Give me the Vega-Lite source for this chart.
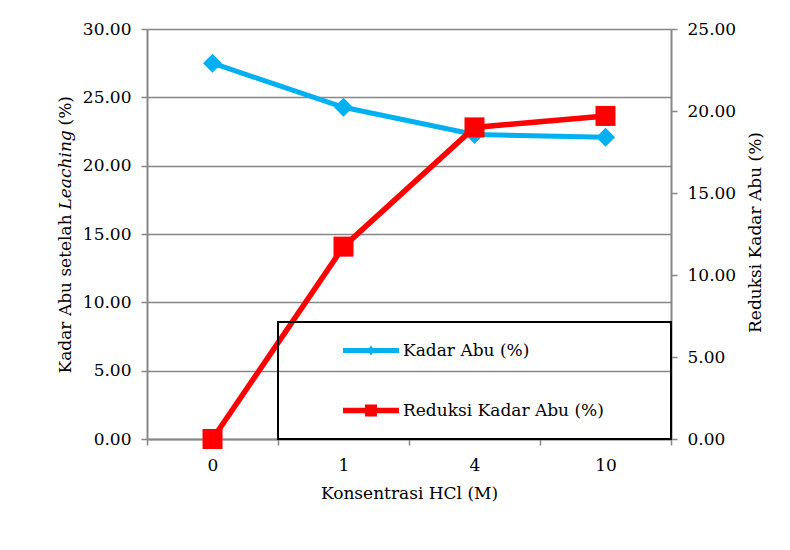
{
  "$schema": "https://vega.github.io/schema/vega-lite/v6.json",
  "width": 524,
  "height": 410,
  "autosize": {"type": "none"},
  "padding": {"left": 147, "top": 29, "right": 119, "bottom": 111},
  "background": "white",
  "data": {
    "values": [
      {"konsentrasi": "0", "kadar": 27.5, "reduksi": 0},
      {"konsentrasi": "1", "kadar": 24.27, "reduksi": 11.73},
      {"konsentrasi": "4", "kadar": 22.28, "reduksi": 19.0},
      {"konsentrasi": "10", "kadar": 22.08, "reduksi": 19.7}
    ]
  },
  "encoding": {
    "x": {
      "field": "konsentrasi",
      "type": "ordinal",
      "sort": ["0", "1", "4", "10"],
      "scale": {"type": "band", "paddingInner": 0, "paddingOuter": 0},
      "axis": {
        "title": "Konsentrasi HCl (M)",
        "labelAngle": 0,
        "tickBand": "extent",
        "tickSize": 6,
        "labelPadding": 12,
        "titlePadding": 12,
        "grid": false
      }
    }
  },
  "layer": [
    {
      "mark": {"type": "line", "color": "#00B0F0", "strokeWidth": 5},
      "encoding": {
        "y": {
          "field": "kadar",
          "type": "quantitative",
          "scale": {"domain": [0, 30]},
          "axis": {
            "orient": "left",
            "values": [0, 5, 10, 15, 20, 25, 30],
            "format": ".2f",
            "grid": true,
            "labelPadding": 10,
            "title": "Kadar Abu setelah",
            "titleX": -82,
            "titleY": 344,
            "titleAngle": -90,
            "titleAlign": "left",
            "titleBaseline": "middle"
          }
        }
      }
    },
    {
      "mark": {"type": "point", "shape": "diamond", "filled": true, "size": 361, "opacity": 1, "strokeWidth": 0},
      "encoding": {
        "y": {
          "field": "kadar",
          "type": "quantitative",
          "scale": {"domain": [0, 30]},
          "axis": {
            "orient": "left",
            "labels": false,
            "ticks": false,
            "domain": false,
            "grid": false,
            "title": "Leaching",
            "titleFontStyle": "italic",
            "titleX": -82,
            "titleY": 180,
            "titleAngle": -90,
            "titleAlign": "left",
            "titleBaseline": "middle"
          }
        },
        "color": {
          "datum": "Kadar Abu (%)",
          "type": "nominal",
          "legend": {
            "orient": "none",
            "legendX": 131,
            "legendY": 293,
            "title": null,
            "strokeColor": "black",
            "padding": 4,
            "rowPadding": 11,
            "clipHeight": 49,
            "labelOffset": 4,
            "labelLimit": 400,
            "labelExpr": "datum.label + '           \u2009\u200b'",
            "symbolSize": 13689,
            "symbolStrokeWidth": 0,
            "symbolOpacity": 1,
            "symbolType": {"expr": "datum.value === 'Kadar Abu (%)' ? 'M0.043,-0.044L1,-0.044L1,0.044L0.043,0.044Z M0.521,-0.085L0.581,0L0.521,0.085L0.461,0Z' : 'M0.043,-0.048L1,-0.048L1,0.048L0.043,0.048Z M0.418,-0.103L0.624,-0.103L0.624,0.103L0.418,0.103Z'"}
          }
        }
      }
    },
    {
      "mark": {"type": "line", "color": "#FF0000", "strokeWidth": 5.5},
      "encoding": {
        "y": {
          "field": "reduksi",
          "type": "quantitative",
          "scale": {"domain": [0, 25]},
          "axis": {
            "orient": "right",
            "values": [0, 5, 10, 15, 20, 25],
            "format": ".2f",
            "grid": false,
            "labelPadding": 10,
            "title": "Reduksi Kadar Abu (%)",
            "titleX": 84,
            "titleY": 203,
            "titleAngle": -90,
            "titleAlign": "center",
            "titleBaseline": "middle"
          }
        }
      }
    },
    {
      "mark": {"type": "point", "shape": "square", "filled": true, "size": 400, "opacity": 1, "strokeWidth": 0},
      "encoding": {
        "y": {
          "field": "reduksi",
          "type": "quantitative",
          "scale": {"domain": [0, 25]},
          "axis": {
            "orient": "left",
            "labels": false,
            "ticks": false,
            "domain": false,
            "grid": false,
            "title": "(%)",
            "titleX": -82,
            "titleY": 96,
            "titleAngle": -90,
            "titleAlign": "left",
            "titleBaseline": "middle"
          }
        },
        "color": {
          "datum": "Reduksi Kadar Abu (%)",
          "type": "nominal",
          "legend": {
            "orient": "none",
            "legendX": 131,
            "legendY": 293,
            "title": null,
            "strokeColor": "black",
            "padding": 4,
            "rowPadding": 11,
            "clipHeight": 49,
            "labelOffset": 4,
            "labelLimit": 400,
            "labelExpr": "datum.label + '           \u2009\u200b'",
            "symbolSize": 13689,
            "symbolStrokeWidth": 0,
            "symbolOpacity": 1,
            "symbolType": {"expr": "datum.value === 'Kadar Abu (%)' ? 'M0.043,-0.044L1,-0.044L1,0.044L0.043,0.044Z M0.521,-0.085L0.581,0L0.521,0.085L0.461,0Z' : 'M0.043,-0.048L1,-0.048L1,0.048L0.043,0.048Z M0.418,-0.103L0.624,-0.103L0.624,0.103L0.418,0.103Z'"}
          }
        }
      }
    }
  ],
  "resolve": {"scale": {"y": "independent"}, "axis": {"y": "independent"}},
  "config": {
    "font": "DejaVu Serif",
    "view": {"stroke": null},
    "range": {"category": ["#00B0F0", "#FF0000"]},
    "axis": {
      "labelFont": "DejaVu Serif",
      "titleFont": "DejaVu Serif",
      "labelFontSize": 17,
      "titleFontSize": 17,
      "titleFontWeight": "normal",
      "labelColor": "black",
      "titleColor": "black",
      "domainColor": "#878787",
      "domainWidth": 2,
      "tickColor": "#878787",
      "tickWidth": 1.5,
      "tickSize": 6,
      "gridColor": "#878787",
      "gridWidth": 1.5
    },
    "legend": {
      "strokeColor": "black",
      "strokeWidth": 2,
      "labelFont": "DejaVu Serif",
      "labelFontSize": 17,
      "labelColor": "black",
      "labelLimit": 400
    }
  }
}
